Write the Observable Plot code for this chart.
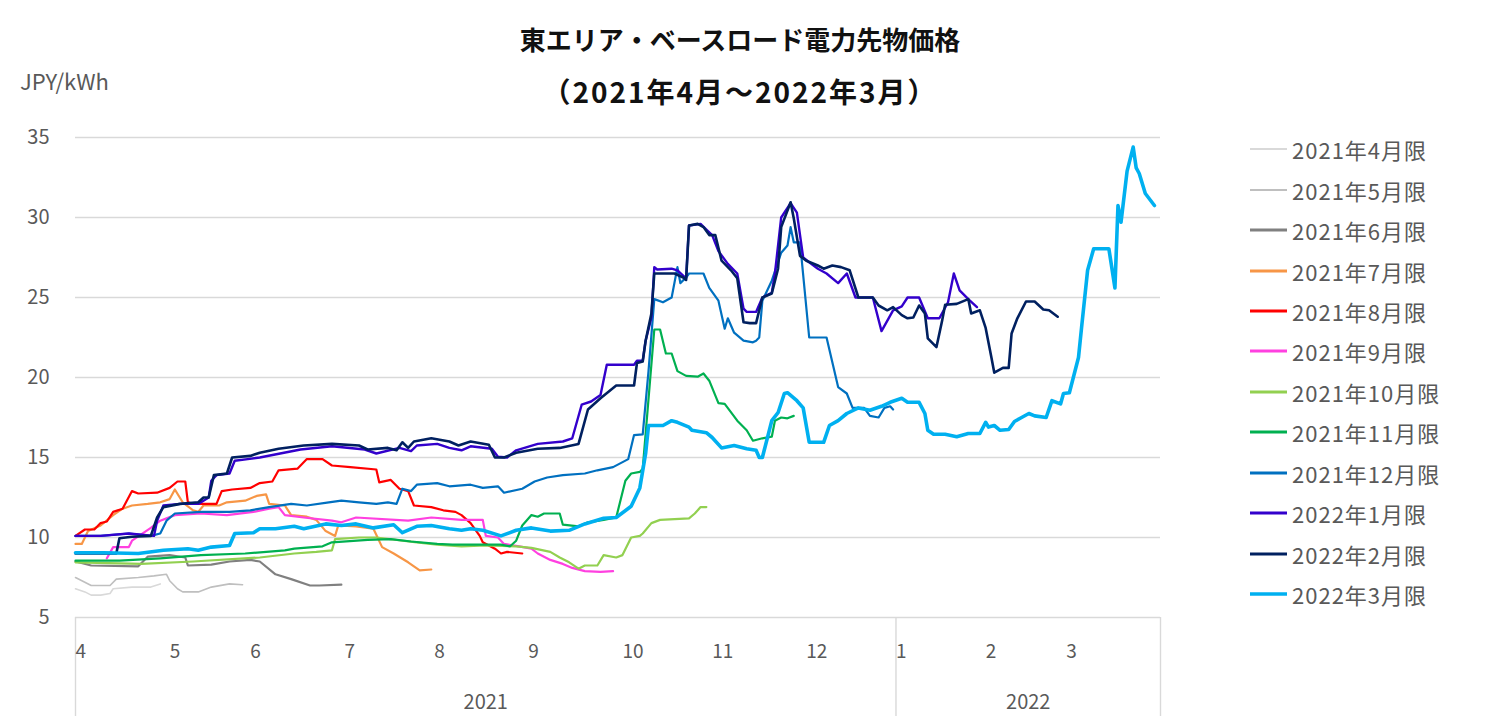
<!DOCTYPE html>
<html>
<head>
<meta charset="utf-8">
<script src="https://cdn.jsdelivr.net/npm/d3@7"></script>
<script src="https://cdn.jsdelivr.net/npm/@observablehq/plot@0.6"></script>
<style>
  html, body { margin: 0; padding: 0; background: #fff; }
  #wrap { position: relative; width: 1496px; height: 716px; overflow: hidden; font-family: "Noto Sans CJK JP", "Noto Sans", sans-serif; }
  #chart { position: absolute; left: 0; top: 0; }
  .title { position: absolute; left: 0; width: 1480px; text-align: center; font-weight: bold; color: #111; white-space: nowrap; }
  #unit { position: absolute; left: 20px; top: 64px; font-size: 22px; color: #595959; }
  #legend { position: absolute; left: 1250px; top: 129px; }
  .row { display: flex; align-items: center; height: 40.45px; font-size: 22px; color: #595959; letter-spacing: 1px; white-space: nowrap; }
  .sw { width: 37px; margin-right: 5px; }
</style>
</head>
<body>
<div id="wrap">
  <div class="title" style="top:20px; font-size:26px;">東エリア・ベースロード電力先物価格</div>
  <div class="title" style="top:71px; font-size:28px; letter-spacing:2px;">（2021年4月～2022年3月）</div>
  <div id="unit">JPY/kWh</div>
  <div id="chart"></div>
  <div id="legend"></div>
</div>
<script>
// ---------- data ----------
const monthLabels = ["4","5","6","7","8","9","10","11","12","1","2","3"];
const tradingDays = [21,18,21,20,21,21,20,21,20,20,18,21];
const yearLabels = ["2021","2022"];
const yearMonthCounts = [9,3];
const yTicks = [5,10,15,20,25,30,35];
const seriesNames = ["2021年4月限","2021年5月限","2021年6月限","2021年7月限","2021年8月限","2021年9月限","2021年10月限","2021年11月限","2021年12月限","2022年1月限","2022年2月限","2022年3月限"];

const s2104 = [["2021-04-01",6.8],["2021-04-04",6.6],["2021-04-06",6.4],["2021-04-09",6.4],["2021-04-12",6.5],["2021-04-13",6.8],["2021-04-19",6.9],["2021-04-25",6.9],["2021-04-28",7.1]];
const s2105 = [["2021-04-01",7.5],["2021-04-06",7.0],["2021-04-12",7.0],["2021-04-14",7.4],["2021-04-21",7.5],["2021-04-26",7.6],["2021-04-30",7.7],["2021-05-01",7.3],["2021-05-04",6.8],["2021-05-06",6.6],["2021-05-12",6.6],["2021-05-17",6.9],["2021-05-24",7.1],["2021-05-29",7.05]];
const s2106 = [["2021-04-01",8.5],["2021-04-06",8.25],["2021-04-21",8.2],["2021-04-24",8.8],["2021-05-01",8.9],["2021-05-07",8.75],["2021-05-08",8.25],["2021-05-17",8.3],["2021-05-24",8.5],["2021-06-01",8.6],["2021-06-04",8.5],["2021-06-09",7.7],["2021-06-14",7.4],["2021-06-20",7.0],["2021-06-23",7.0],["2021-06-30",7.05]];
const s2107 = [["2021-04-01",9.6],["2021-04-03",9.6],["2021-04-05",10.4],["2021-04-09",10.75],["2021-04-13",11.4],["2021-04-16",11.8],["2021-04-19",12.0],["2021-04-24",12.1],["2021-04-28",12.2],["2021-05-01",12.4],["2021-05-03",13.0],["2021-05-06",12.2],["2021-05-10",11.7],["2021-05-12",11.6],["2021-05-14",12.0],["2021-05-20",12.0],["2021-05-23",12.2],["2021-05-30",12.3],["2021-06-03",12.6],["2021-06-06",12.7],["2021-06-07",12.1],["2021-06-12",12.0],["2021-06-14",11.4],["2021-06-19",11.3],["2021-06-22",11.1],["2021-06-25",10.4],["2021-06-28",10.1],["2021-06-29",10.75],["2021-07-05",10.7],["2021-07-11",10.55],["2021-07-14",9.4],["2021-07-18",9.0],["2021-07-23",8.45],["2021-07-27",7.95],["2021-07-31",8.0]];
const s2108 = [["2021-04-01",10.1],["2021-04-04",10.5],["2021-04-07",10.5],["2021-04-09",10.9],["2021-04-11",11.0],["2021-04-13",11.6],["2021-04-16",11.8],["2021-04-19",12.9],["2021-04-21",12.75],["2021-04-27",12.8],["2021-05-01",13.1],["2021-05-04",13.5],["2021-05-07",13.5],["2021-05-08",12.2],["2021-05-10",12.1],["2021-05-19",12.1],["2021-05-21",12.9],["2021-05-25",13.0],["2021-06-01",13.1],["2021-06-04",13.4],["2021-06-08",13.5],["2021-06-10",14.2],["2021-06-16",14.3],["2021-06-19",14.9],["2021-06-24",14.9],["2021-06-27",14.5],["2021-07-03",14.4],["2021-07-12",14.25],["2021-07-13",13.45],["2021-07-17",13.6],["2021-07-20",13.05],["2021-07-23",12.9],["2021-07-25",12.0],["2021-07-31",11.9],["2021-08-04",11.7],["2021-08-08",11.6],["2021-08-10",11.4],["2021-08-13",10.9],["2021-08-16",10.1],["2021-08-17",9.7],["2021-08-21",9.3],["2021-08-23",9.0],["2021-08-25",9.1],["2021-08-30",9.0]];
const s2109 = [["2021-04-11",8.7],["2021-04-13",9.4],["2021-04-18",9.4],["2021-04-19",9.8],["2021-04-25",10.6],["2021-04-28",11.05],["2021-05-03",11.4],["2021-05-13",11.5],["2021-05-23",11.4],["2021-06-02",11.6],["2021-06-07",11.8],["2021-06-10",11.9],["2021-06-12",11.4],["2021-06-18",11.25],["2021-06-27",11.05],["2021-06-30",10.95],["2021-07-05",11.25],["2021-07-23",11.05],["2021-07-31",11.25],["2021-08-10",11.1],["2021-08-17",11.1],["2021-08-18",10.1],["2021-08-22",10.0],["2021-08-24",9.6],["2021-08-29",9.45],["2021-09-02",9.3],["2021-09-04",9.0],["2021-09-08",8.6],["2021-09-12",8.35],["2021-09-15",8.1],["2021-09-19",7.9],["2021-09-24",7.85],["2021-09-28",7.9]];
const s2110 = [["2021-04-01",8.45],["2021-04-22",8.35],["2021-05-10",8.5],["2021-06-04",8.75],["2021-06-15",9.0],["2021-06-22",9.1],["2021-06-27",9.2],["2021-06-28",9.9],["2021-07-06",10.0],["2021-07-12",10.0],["2021-07-26",9.7],["2021-08-02",9.55],["2021-08-10",9.45],["2021-08-18",9.5],["2021-08-28",9.45],["2021-09-02",9.35],["2021-09-08",9.1],["2021-09-11",8.75],["2021-09-14",8.45],["2021-09-17",8.05],["2021-09-19",8.25],["2021-09-23",8.25],["2021-09-25",8.9],["2021-09-29",8.75],["2021-10-01",8.9],["2021-10-04",10.0],["2021-10-07",10.1],["2021-10-08",10.25],["2021-10-11",10.9],["2021-10-14",11.1],["2021-10-24",11.2],["2021-10-26",11.5],["2021-10-28",11.9],["2021-10-30",11.9]];
const s2111 = [["2021-04-01",8.55],["2021-04-15",8.55],["2021-04-28",8.7],["2021-05-13",8.9],["2021-05-30",9.0],["2021-06-12",9.2],["2021-06-15",9.3],["2021-06-24",9.45],["2021-06-27",9.7],["2021-07-09",9.85],["2021-07-17",9.9],["2021-07-24",9.75],["2021-08-02",9.6],["2021-08-07",9.55],["2021-08-23",9.55],["2021-08-26",9.45],["2021-08-28",9.8],["2021-08-30",10.75],["2021-09-02",11.4],["2021-09-04",11.3],["2021-09-06",11.5],["2021-09-11",11.5],["2021-09-12",10.8],["2021-09-17",10.7],["2021-09-20",10.95],["2021-09-25",11.1],["2021-09-29",11.25],["2021-10-02",13.55],["2021-10-04",14.0],["2021-10-07",14.1],["2021-10-08",14.3],["2021-10-12",23.0],["2021-10-14",23.0],["2021-10-16",21.5],["2021-10-18",21.5],["2021-10-20",20.4],["2021-10-23",20.1],["2021-10-27",20.05],["2021-10-29",20.25],["2021-10-31",19.8],["2021-11-03",18.4],["2021-11-05",18.35],["2021-11-09",17.3],["2021-11-12",16.7],["2021-11-14",16.05],["2021-11-17",16.2],["2021-11-20",16.3],["2021-11-21",17.3],["2021-11-23",17.5],["2021-11-25",17.45],["2021-11-27",17.6]];
const s2112 = [["2021-04-01",10.1],["2021-04-09",10.1],["2021-04-18",10.25],["2021-04-25",10.1],["2021-04-28",10.25],["2021-04-30",11.05],["2021-05-03",11.5],["2021-05-13",11.6],["2021-05-24",11.6],["2021-06-01",11.7],["2021-06-07",11.9],["2021-06-14",12.1],["2021-06-19",12.0],["2021-06-26",12.2],["2021-06-30",12.3],["2021-07-06",12.2],["2021-07-12",12.1],["2021-07-16",12.2],["2021-07-19",12.1],["2021-07-21",13.05],["2021-07-24",12.9],["2021-07-26",13.3],["2021-08-02",13.4],["2021-08-06",13.2],["2021-08-13",13.3],["2021-08-17",13.1],["2021-08-22",13.2],["2021-08-24",12.8],["2021-08-30",13.05],["2021-09-03",13.5],["2021-09-07",13.75],["2021-09-12",13.9],["2021-09-19",14.0],["2021-09-23",14.2],["2021-09-28",14.4],["2021-10-03",14.9],["2021-10-05",16.4],["2021-10-08",16.45],["2021-10-10",20.4],["2021-10-12",24.9],["2021-10-15",24.7],["2021-10-18",25.0],["2021-10-20",26.9],["2021-10-21",25.9],["2021-10-23",26.25],["2021-10-24",26.5],["2021-10-29",26.5],["2021-10-31",25.6],["2021-11-03",24.8],["2021-11-05",23.05],["2021-11-06",23.7],["2021-11-08",22.8],["2021-11-11",22.3],["2021-11-14",22.2],["2021-11-15",22.3],["2021-11-16",22.5],["2021-11-17",24.8],["2021-11-20",26.05],["2021-11-23",27.8],["2021-11-25",28.25],["2021-11-26",29.4],["2021-11-27",28.45],["2021-11-29",28.45],["2021-12-02",22.5],["2021-12-08",22.5],["2021-12-12",19.4],["2021-12-15",19.0],["2021-12-17",18.1],["2021-12-21",18.1],["2021-12-23",17.6],["2021-12-26",17.5],["2021-12-28",18.1],["2021-12-30",18.2],["2021-12-31",18.0]];
const s2201 = [["2021-04-01",10.1],["2021-04-09",10.1],["2021-04-18",10.25],["2021-04-26",10.1],["2021-04-27",11.05],["2021-04-29",12.0],["2021-05-05",12.1],["2021-05-12",12.1],["2021-05-14",12.3],["2021-05-16",12.5],["2021-05-17",13.55],["2021-05-19",13.9],["2021-05-24",14.0],["2021-05-26",14.8],["2021-05-31",14.9],["2021-06-04",15.0],["2021-06-17",15.5],["2021-06-27",15.7],["2021-07-08",15.5],["2021-07-12",15.25],["2021-07-20",15.6],["2021-07-24",15.4],["2021-07-26",15.75],["2021-08-02",15.85],["2021-08-06",15.6],["2021-08-10",15.45],["2021-08-13",15.7],["2021-08-20",15.55],["2021-08-22",15.05],["2021-08-25",15.0],["2021-08-28",15.45],["2021-09-04",15.85],["2021-09-12",16.0],["2021-09-15",16.2],["2021-09-18",18.3],["2021-09-21",18.5],["2021-09-24",18.9],["2021-09-26",20.8],["2021-10-05",20.8],["2021-10-06",21.05],["2021-10-08",21.05],["2021-10-09",22.3],["2021-10-11",23.75],["2021-10-12",26.9],["2021-10-13",26.75],["2021-10-18",26.8],["2021-10-20",26.7],["2021-10-23",26.2],["2021-10-24",29.5],["2021-10-28",29.6],["2021-10-30",29.25],["2021-11-01",28.9],["2021-11-03",27.9],["2021-11-06",27.1],["2021-11-09",26.5],["2021-11-11",24.3],["2021-11-12",24.1],["2021-11-15",24.1],["2021-11-17",25.0],["2021-11-20",25.3],["2021-11-21",26.5],["2021-11-23",30.0],["2021-11-26",30.9],["2021-11-28",30.3],["2021-11-30",27.5],["2021-12-02",27.2],["2021-12-05",26.8],["2021-12-08",26.5],["2021-12-12",25.9],["2021-12-15",26.5],["2021-12-18",25.0],["2021-12-24",25.0],["2021-12-27",22.9],["2021-12-31",24.2],["2022-01-03",24.45],["2022-01-05",25.0],["2022-01-09",25.0],["2022-01-12",23.7],["2022-01-16",23.7],["2022-01-19",24.7],["2022-01-21",26.5],["2022-01-23",25.45],["2022-01-26",24.9],["2022-01-29",24.4]];
const s2202 = [["2021-04-01",9.0],["2021-04-14",9.0],["2021-04-15",9.95],["2021-04-19",10.05],["2021-04-25",10.1],["2021-04-27",11.25],["2021-04-29",11.9],["2021-05-05",12.1],["2021-05-12",12.2],["2021-05-14",12.5],["2021-05-16",12.5],["2021-05-18",13.9],["2021-05-23",14.0],["2021-05-25",15.0],["2021-06-01",15.1],["2021-06-04",15.3],["2021-06-10",15.55],["2021-06-18",15.75],["2021-06-27",15.85],["2021-07-06",15.75],["2021-07-09",15.5],["2021-07-16",15.6],["2021-07-19",15.45],["2021-07-21",15.95],["2021-07-23",15.6],["2021-07-25",16.0],["2021-07-31",16.2],["2021-08-06",16.0],["2021-08-09",15.75],["2021-08-13",16.0],["2021-08-19",15.8],["2021-08-21",15.0],["2021-08-24",15.0],["2021-08-28",15.3],["2021-09-04",15.55],["2021-09-11",15.6],["2021-09-17",15.85],["2021-09-20",18.0],["2021-09-24",18.7],["2021-09-29",19.5],["2021-10-05",19.5],["2021-10-06",20.9],["2021-10-08",21.0],["2021-10-09",22.3],["2021-10-11",24.0],["2021-10-12",26.5],["2021-10-16",26.5],["2021-10-19",26.5],["2021-10-22",26.25],["2021-10-23",26.1],["2021-10-24",29.5],["2021-10-27",29.6],["2021-10-29",29.4],["2021-10-31",28.9],["2021-11-02",28.9],["2021-11-04",27.3],["2021-11-07",26.7],["2021-11-09",26.2],["2021-11-11",23.45],["2021-11-13",23.4],["2021-11-15",23.4],["2021-11-17",25.0],["2021-11-20",25.25],["2021-11-22",26.8],["2021-11-23",29.4],["2021-11-26",30.95],["2021-11-27",29.95],["2021-11-29",27.6],["2021-12-01",27.3],["2021-12-05",27.0],["2021-12-07",26.8],["2021-12-10",27.0],["2021-12-13",26.9],["2021-12-16",26.7],["2021-12-19",25.0],["2021-12-24",25.0],["2021-12-26",24.5],["2021-12-29",24.2],["2021-12-31",24.4],["2022-01-03",23.9],["2022-01-05",23.7],["2022-01-07",23.75],["2022-01-09",24.5],["2022-01-11",24.0],["2022-01-12",22.45],["2022-01-15",21.9],["2022-01-17",23.6],["2022-01-18",24.55],["2022-01-22",24.6],["2022-01-26",24.9],["2022-01-27",24.0],["2022-01-30",24.2],["2022-02-01",23.1],["2022-02-03",21.25],["2022-02-04",20.3],["2022-02-07",20.6],["2022-02-09",20.6],["2022-02-10",22.75],["2022-02-12",23.7],["2022-02-15",24.75],["2022-02-18",24.75],["2022-02-21",24.25],["2022-02-23",24.2],["2022-02-26",23.8]];
const s2203 = [["2021-04-01",9.05],["2021-04-10",9.05],["2021-04-21",9.0],["2021-04-29",9.2],["2021-05-08",9.3],["2021-05-12",9.2],["2021-05-17",9.4],["2021-05-24",9.5],["2021-05-26",10.25],["2021-06-02",10.3],["2021-06-04",10.55],["2021-06-09",10.55],["2021-06-15",10.7],["2021-06-18",10.55],["2021-06-25",10.85],["2021-06-30",10.75],["2021-07-05",10.85],["2021-07-11",10.6],["2021-07-18",10.8],["2021-07-21",10.3],["2021-07-26",10.7],["2021-07-31",10.75],["2021-08-06",10.55],["2021-08-10",10.45],["2021-08-13",10.55],["2021-08-17",10.45],["2021-08-23",10.1],["2021-08-28",10.45],["2021-09-02",10.6],["2021-09-08",10.4],["2021-09-14",10.45],["2021-09-19",10.85],["2021-09-25",11.2],["2021-09-29",11.25],["2021-10-04",11.95],["2021-10-07",13.1],["2021-10-09",15.25],["2021-10-10",17.0],["2021-10-15",17.0],["2021-10-18",17.3],["2021-10-20",17.2],["2021-10-24",16.9],["2021-10-25",16.7],["2021-10-30",16.55],["2021-11-01",16.25],["2021-11-04",15.6],["2021-11-08",15.75],["2021-11-12",15.55],["2021-11-15",15.45],["2021-11-16",15.0],["2021-11-17",15.0],["2021-11-20",17.3],["2021-11-22",17.8],["2021-11-24",19.0],["2021-11-25",19.05],["2021-11-28",18.55],["2021-11-30",18.1],["2021-12-02",15.95],["2021-12-07",15.95],["2021-12-09",17.0],["2021-12-12",17.3],["2021-12-15",17.75],["2021-12-19",18.1],["2021-12-23",17.95],["2021-12-27",18.2],["2021-12-30",18.45],["2022-01-03",18.7],["2022-01-05",18.45],["2022-01-09",18.45],["2022-01-11",17.75],["2022-01-12",16.7],["2022-01-14",16.45],["2022-01-18",16.45],["2022-01-22",16.3],["2022-01-26",16.5],["2022-01-30",16.5],["2022-02-01",17.2],["2022-02-02",16.9],["2022-02-04",17.0],["2022-02-06",16.7],["2022-02-09",16.75],["2022-02-11",17.25],["2022-02-13",17.45],["2022-02-16",17.75],["2022-02-18",17.6],["2022-02-22",17.5],["2022-02-24",18.55],["2022-02-27",18.35],["2022-02-28",19.0],["2022-03-02",19.05],["2022-03-05",21.25],["2022-03-06",23.1],["2022-03-08",26.7],["2022-03-10",28.05],["2022-03-15",28.05],["2022-03-17",25.6],["2022-03-18",30.75],["2022-03-19",29.7],["2022-03-21",32.9],["2022-03-23",34.4],["2022-03-24",33.1],["2022-03-25",32.75],["2022-03-27",31.5],["2022-03-30",30.75]];

const seriesData = [s2104,s2105,s2106,s2107,s2108,s2109,s2110,s2111,s2112,s2201,s2202,s2203];

// ---------- styles ----------
const seriesColors = ["#d9d9d9","#bfbfbf","#808080","#f79646","#ff0000","#ff40e0","#92d050","#00b050","#0070c0","#3300cc","#002060","#00b0f0"];
const seriesWidths = [1.6,1.6,2.2,2.2,2.2,2.2,2.2,2.2,2.2,2.4,2.6,3.6];
const FONT = '"Noto Sans CJK JP", "Noto Sans", sans-serif';

// ---------- axis helpers (trading-day category axis) ----------
const monthStartIdx = d3.cumsum([0, ...tradingDays]).slice(0, tradingDays.length);
const totalDays = d3.sum(tradingDays);
function toIndex(s) {
  const [y, m, d] = s.split("-").map(Number);
  const mi = (y - 2021) * 12 + m - 4;
  const dim = new Date(Date.UTC(y, m, 0)).getUTCDate();
  return monthStartIdx[mi] + (d - 1) / dim * tradingDays[mi];
}
const yearBounds = [0, monthStartIdx[yearMonthCounts[0]], totalDays];
const yearMids = [ (yearBounds[0] + yearBounds[1]) / 2, (yearBounds[1] + yearBounds[2]) / 2 ];

const lineMarks = seriesData.map((data, i) =>
  Plot.line(data, {x: d => toIndex(d[0]), y: d => d[1], stroke: seriesColors[i], strokeWidth: seriesWidths[i], strokeLinejoin: "round", strokeLinecap: "round"})
);

const chart = Plot.plot({
  width: 1496, height: 716,
  marginLeft: 75, marginRight: 336, marginTop: 137, marginBottom: 99,
  style: {fontFamily: FONT, background: "transparent", overflow: "visible"},
  x: {domain: [0, totalDays], axis: null},
  y: {domain: [5, 35], axis: null},
  marks: [
    Plot.ruleY(yTicks, {stroke: "#d9d9d9", strokeWidth: 1.4}),
    Plot.text(yTicks, {y: d => d, text: d => String(d), frameAnchor: "left", textAnchor: "end", dx: -26, fontSize: 20, fill: "#595959"}),
    Plot.ruleX(yearBounds, {x: d => d, insetTop: 480, insetBottom: -99, stroke: "#d9d9d9", strokeWidth: 1.4}),
    Plot.text(monthLabels, {x: (d, i) => monthStartIdx[i], y: () => 5, text: d => d, textAnchor: "start", dx: 0, dy: 34, fontSize: 19, fill: "#595959"}),
    Plot.text(yearLabels, {x: (d, i) => yearMids[i], y: () => 5, text: d => d, dy: 85, fontSize: 20, fill: "#595959"}),
    ...lineMarks
  ]
});
document.getElementById("chart").appendChild(chart);

// ---------- legend ----------
const legend = document.getElementById("legend");
seriesNames.forEach((name, i) => {
  const row = document.createElement("div");
  row.className = "row";
  row.innerHTML = `<svg class="sw" width="37" height="8"><line x1="0" x2="37" y1="4" y2="4" stroke="${seriesColors[i]}" stroke-width="${Math.min(seriesWidths[i] + 0.6, 3.6)}"/></svg><span>${name}</span>`;
  legend.appendChild(row);
});
</script>
</body>
</html>
